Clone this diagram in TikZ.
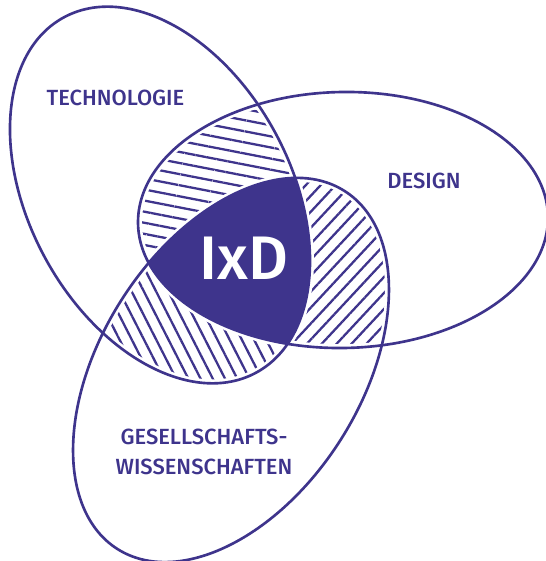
\documentclass[tikz,border=0pt]{standalone}
\usepackage{fontspec}
\setmainfont{Fira Sans}[UprightFont={* Medium}]
\usetikzlibrary{patterns.meta}
\definecolor{ixdblue}{RGB}{62,52,140}
\newcommand{\techell}{(3.2,7.32) circle [x radius=4.04, y radius=2.62, rotate=-61.6]}
\newcommand{\designell}{(6.86,6.82) circle [x radius=4.1, y radius=2.56, rotate=1]}
\newcommand{\socell}{(4.62,3.82) circle [x radius=4.24, y radius=2.6, rotate=57.6]}

\begin{document}
\begin{tikzpicture}[
	ring/.style={draw=ixdblue, line width=1.5pt},
	halo/.style={draw=white, line width=4.5pt},
	hatch/.style={pattern={Lines[angle=#1, distance=6.2pt, line width=1.3pt]}, pattern color=ixdblue},
	field/.style={text=ixdblue, font=\fontsize{12.5}{14}\selectfont, align=center, inner sep=0pt}
]
	\useasboundingbox (0,0) rectangle (10.92,11.22);
	%technologie + design
		\begin{scope}
			\clip \techell;
			\clip \designell;
			\fill[hatch=-11] (0,0) rectangle (10.92,11.22);
		\end{scope}
	%design + gesellschaft
		\begin{scope}
			\clip \designell;
			\clip \socell;
			\fill[hatch=47] (0,0) rectangle (10.92,11.22);
		\end{scope}
	%technologie + gesellschaft
		\begin{scope}
			\clip \techell;
			\clip \socell;
			\fill[hatch=-63] (0,0) rectangle (10.92,11.22);
		\end{scope}
	%gap round the hatching
		\draw[halo] \techell;
		\draw[halo] \designell;
		\draw[halo] \socell;
	%all three
		\begin{scope}
			\clip \techell;
			\clip \designell;
			\fill[ixdblue] \socell;
		\end{scope}
	%ellipses
		\draw[ring] \techell;
		\draw[ring] \designell;
		\draw[ring] \socell;
	%labels
		\node[field] (tech) at (2.31,9.27) {TECHNOLOGIE};
		\node[field] (design) at (8.48,7.61) {DESIGN};
		\node[field] (soc) at (4.08,2.18) {GESELLSCHAFTS-\\[0.1cm]WISSENSCHAFTEN};
		\node[text=white, font=\fontsize{35}{40}\selectfont, inner sep=0pt] (ixd) at (4.88,6.06) {IxD};
\end{tikzpicture}
\end{document}
